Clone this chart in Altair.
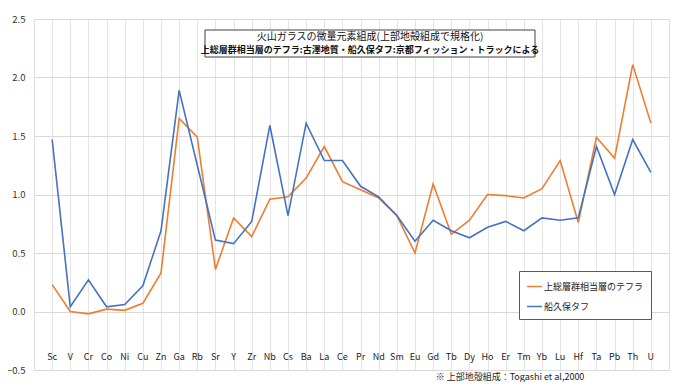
import altair as alt
import pandas as pd

elements = ["Sc", "V", "Cr", "Co", "Ni", "Cu", "Zn", "Ga", "Rb", "Sr", "Y", "Zr", "Nb", "Cs",
            "Ba", "La", "Ce", "Pr", "Nd", "Sm", "Eu", "Gd", "Tb", "Dy", "Ho", "Er", "Tm", "Yb",
            "Lu", "Hf", "Ta", "Pb", "Th", "U"]
tephra = [0.23, 0.00, -0.02, 0.02, 0.01, 0.07, 0.33, 1.65, 1.49, 0.36, 0.80, 0.64, 0.96, 0.98,
          1.14, 1.41, 1.11, 1.04, 0.97, 0.82, 0.50, 1.09, 0.66, 0.78, 1.00, 0.99, 0.97, 1.05,
          1.29, 0.76, 1.49, 1.31, 2.11, 1.61]
funakubo = [1.47, 0.04, 0.27, 0.04, 0.06, 0.22, 0.69, 1.89, 1.25, 0.61, 0.58, 0.77, 1.59, 0.82,
            1.61, 1.29, 1.29, 1.07, 0.98, 0.82, 0.60, 0.78, 0.69, 0.63, 0.72, 0.77, 0.69, 0.80,
            0.78, 0.80, 1.41, 1.00, 1.47, 1.19]
series_names = ["上総層群相当層のテフラ", "船久保タフ"]
series_colors = ["#ED7D31", "#4472C4"]
y_ticks = [-0.5, 0.0, 0.5, 1.0, 1.5, 2.0, 2.5]
title_lines = ["火山ガラスの微量元素組成(上部地殻組成で規格化)",
               "上総層群相当層のテフラ:古澤地質・船久保タフ:京都フィッション・トラックによる"]
footnote = "※ 上部地殻組成：Togashi et al,2000"

FONT = "Noto Sans CJK JP"

rows = []
for name, vals in zip(series_names, [tephra, funakubo]):
    for e, v in zip(elements, vals):
        rows.append({"element": e, "value": v, "series": name})
df = pd.DataFrame(rows)

W, H = 635, 351

xscale = alt.Scale(type="point", padding=1, domain=elements)

lines = alt.Chart(df).mark_line(strokeWidth=1.6).encode(
    x=alt.X("element:N", sort=elements, scale=xscale,
            axis=alt.Axis(labels=False, ticks=False, domain=False, grid=True,
                          gridColor="#e4e4e4", title=None)),
    y=alt.Y("value:Q", scale=alt.Scale(domain=[-0.5, 2.5], nice=False, zero=False),
            axis=alt.Axis(values=y_ticks, format=".1f", grid=True, gridColor="#d9d9d9",
                          ticks=False, domain=False, labelPadding=9, title=None,
                          labelFontSize=9.5, labelColor="#333333", labelFont=FONT)),
    color=alt.Color("series:N",
                    scale=alt.Scale(domain=series_names, range=series_colors),
                    legend=alt.Legend(orient="none", legendX=485, legendY=252, title=None,
                                      strokeColor="#595959", fillColor="white", padding=7,
                                      symbolType="stroke", symbolSize=220, symbolStrokeWidth=1.5,
                                      labelFontSize=9, labelFont=FONT, labelColor="#222222",
                                      rowPadding=6, labelOffset=1)),
    detail="series:N",
)

labels = alt.Chart(pd.DataFrame({"element": elements})).mark_text(
    fontSize=9, font=FONT, color="#222222", baseline="middle"
).encode(
    x=alt.X("element:N", sort=elements, scale=xscale),
    y=alt.value(338),
    text="element:N",
)

box = alt.Chart(pd.DataFrame({"k": [0]})).mark_rect(
    fill="white", stroke="#404040", strokeWidth=1
).encode(x=alt.value(171), x2=alt.value(501), y=alt.value(11), y2=alt.value(38))

t1 = alt.Chart(pd.DataFrame({"t": [title_lines[0]]})).mark_text(
    fontSize=10, font=FONT, color="#111111", baseline="middle", align="center"
).encode(x=alt.value(336), y=alt.value(18), text="t:N")

t2 = alt.Chart(pd.DataFrame({"t": [title_lines[1]]})).mark_text(
    fontSize=9, font=FONT, fontWeight="bold", color="#111111", baseline="middle", align="center"
).encode(x=alt.value(336), y=alt.value(30.5), text="t:N")

foot = alt.Chart(pd.DataFrame({"t": [footnote]})).mark_text(
    fontSize=9, font=FONT, color="#222222", baseline="middle", align="center"
).encode(x=alt.value(476), y=alt.value(358), text="t:N")

chart = alt.layer(lines, labels, box, t1, t2, foot).properties(
    width=W, height=H,
    autosize=alt.AutoSizeParams(type="none"),
    padding={"left": 26, "top": 11, "right": 3, "bottom": 12},
    background="white",
).configure_view(stroke="#595959", strokeWidth=2).configure(font=FONT)

chart.save("out.html", embed_options={"renderer": "svg", "actions": False})
